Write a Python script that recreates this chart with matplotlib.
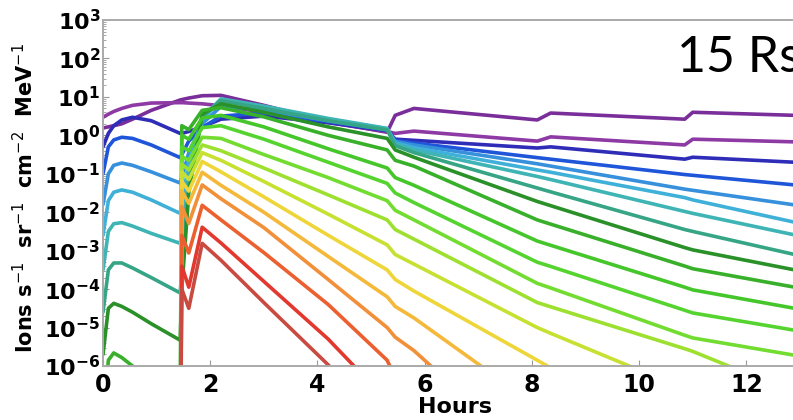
import numpy as np
import matplotlib.pyplot as plt
from matplotlib.ticker import LogLocator, FuncFormatter, NullFormatter

NA = np.nan

# knot times (hours) shared by every channel
hours = [0.0, 0.1, 0.2, 0.35, 0.55, 0.9, 1.44, 1.47, 1.6, 1.85, 2.2,
         3.0, 4.2, 5.3, 5.45, 5.8, 8.1, 8.35, 10.85, 11.0, 12.9]

# log10 of the intensity at each knot, one list per channel (purple -> red)
ch_purple = [0.19, 0.22, 0.25, 0.3, 0.42, 0.65, 0.92, 0.93, 0.97, 1.03, 1.04,
             0.78, 0.35, 0.08, 0.52, 0.7, 0.40, 0.58, 0.42, 0.6, 0.52]
ch_magenta = [0.47, 0.55, 0.62, 0.7, 0.78, 0.84, 0.85, 0.85, 0.84, 0.82, 0.77,
              0.6, 0.33, 0.1, 0.05, 0.11, -0.15, -0.04, -0.25, -0.1, -0.17]
ch_indigo = [-0.3, 0.05, 0.25, 0.4, 0.47, 0.38, 0.05, 0.05, 0.1, 0.22, 0.42,
             0.5, 0.33, 0.12, -0.1, -0.13, -0.33, -0.3, -0.62, -0.57, -0.70]
ch_blue = [-1.0, -0.3, -0.12, -0.05, -0.08, -0.25, -0.58, -0.5, -0.15, 0.2, 0.5,
           0.58, 0.36, 0.14, -0.13, -0.2, -0.58, -0.62, -1.02, -1.04, -1.29]
ch_sky = [-1.8, -1.0, -0.78, -0.72, -0.78, -0.95, -1.24, -1.1, -0.45, 0.3, 0.75,
          0.66, 0.38, 0.15, -0.16, -0.25, -0.74, -0.8, -1.4, -1.43, -1.81]
ch_cyan = [-2.6, -1.7, -1.48, -1.42, -1.48, -1.68, -2.03, -1.8, -0.7, 0.4, 0.92,
           0.74, 0.42, 0.17, -0.2, -0.32, -0.9, -0.96, -1.62, -1.68, -2.26]
ch_teal = [-3.5, -2.5, -2.3, -2.27, -2.36, -2.55, -2.81, -2.5, -1.0, 0.45, 0.95,
           0.76, 0.44, 0.18, -0.22, -0.38, -1.07, -1.15, -1.98, -2.03, -2.59]
ch_seagreen = [-4.6, -3.5, -3.32, -3.32, -3.45, -3.7, -4.1, -3.5, -1.3, 0.5, 0.9,
               0.7, 0.38, 0.14, -0.27, -0.45, -1.37, -1.47, -2.45, -2.5, -3.1]
ch_darkgreen = [-5.7, -4.5, -4.37, -4.45, -4.6, -4.9, -5.33, -4.0, -1.5, 0.55, 0.82,
                0.6, 0.22, -0.08, -0.38, -0.57, -1.72, -1.83, -2.92, -2.98, -3.5]
ch_green = [-7.5, -5.85, -5.66, -5.78, -6.0, -6.4, -7.0, 0.25, 0.15, 0.65, 0.72,
            0.48, 0.0, -0.38, -0.65, -0.8, -2.2, -2.31, -3.4, -3.47, -3.95]
ch_green2 = [NA, NA, NA, NA, NA, NA, -9, 0.0, -0.1, 0.45, 0.52,
             0.22, -0.35, -0.85, -1.1, -1.3, -2.75, -2.86, -3.95, -4.02, -4.5]
ch_green3 = [NA, NA, NA, NA, NA, NA, -9, -0.3, -0.4, 0.2, 0.25,
             -0.1, -0.7, -1.25, -1.5, -1.75, -3.3, -3.41, -4.55, -4.62, -5.07]
ch_lime = [NA, NA, NA, NA, NA, NA, -9, -0.55, -0.65, -0.05, -0.08,
           -0.5, -1.1, -1.7, -1.95, -2.2, -3.85, -3.97, -5.2, -5.27, -5.72]
ch_yellowgreen = [NA, NA, NA, NA, NA, NA, -9, -0.75, -0.9, -0.25, -0.4,
                  -0.85, -1.55, -2.2, -2.45, -2.7, -4.35, -4.46, -5.55, -5.62, -6.7]
ch_chartreuse = [NA, NA, NA, NA, NA, NA, -9, -0.95, -1.15, -0.45, -0.65,
                 -1.2, -2.05, -2.85, -3.1, -3.35, -5.0, -5.15, -6.6, -6.7, -7.8]
ch_yellow = [NA, NA, NA, NA, NA, NA, -9, -1.2, -1.45, -0.68, -0.95,
             -1.6, -2.6, -3.5, -3.75, -4.05, -5.85, -6.05, -8.0, NA, NA]
ch_amber = [NA, NA, NA, NA, NA, NA, -9, -1.45, -1.77, -0.96, -1.3,
            -2.0, -3.15, -4.2, -4.45, -4.75, -7.05, NA, NA, NA, NA]
ch_orange = [NA, NA, NA, NA, NA, NA, -9, -1.85, -2.29, -1.29, -1.65,
             -2.4, -3.75, -5.0, -5.25, -5.6, -8.5, NA, NA, NA, NA]
ch_redorange = [NA, NA, NA, NA, NA, NA, -9, -2.6, -3.06, -1.82, -2.2,
                -3.05, -4.4, -5.85, -6.3, NA, NA, NA, NA, NA, NA]
ch_red = [NA, NA, NA, NA, NA, NA, -9, -3.4, -3.95, -2.39, -2.8,
          -3.8, -5.3, -6.9, NA, NA, NA, NA, NA, NA, NA]
ch_darkred = [NA, NA, NA, NA, NA, NA, -9, -4.0, -4.5, -2.81, -3.25,
              -4.35, -5.97, -7.5, NA, NA, NA, NA, NA, NA, NA]

channels = [ch_purple, ch_magenta, ch_indigo, ch_blue, ch_sky, ch_cyan, ch_teal,
            ch_seagreen, ch_darkgreen, ch_green, ch_green2, ch_green3, ch_lime,
            ch_yellowgreen, ch_chartreuse, ch_yellow, ch_amber, ch_orange,
            ch_redorange, ch_red, ch_darkred]
colors = ["#7a2e9a", "#8e3aa5", "#2f2db8", "#1f55d8", "#3690dc", "#3fb0d8",
          "#3fb4b4", "#35a585", "#2a9028", "#38b02a", "#45c62a", "#55d430",
          "#72dc30", "#9ee030", "#c8e032", "#eed63a", "#f4b83a", "#f2903a",
          "#ec6030", "#e2382e", "#c94a40"]

fig = plt.figure(figsize=(7.93, 4.20), dpi=100)
ax = fig.add_axes([103 / 793, 54 / 420, 690 / 793, 346 / 420])

for vals, col in zip(channels, colors):
    ax.plot(hours, np.power(10.0, vals), color=col, lw=2.6,
            solid_joinstyle="round", solid_capstyle="round")

ax.set_yscale("log")
ax.set_ylim(1e-6, 1e3)
ax.set_xlim(0, 12.87)

ax.yaxis.set_major_locator(LogLocator(base=10, numticks=20))
ax.yaxis.set_minor_locator(LogLocator(base=10, subs=np.arange(2, 10), numticks=20))
ax.yaxis.set_minor_formatter(NullFormatter())
ax.yaxis.set_major_formatter(FuncFormatter(
    lambda v, p: r"$\mathbf{10^{%d}}$" % round(np.log10(v))))
ax.set_xticks([0, 2, 4, 6, 8, 10, 12])
ax.set_xticklabels(["0", "2", "4", "6", "8", "10", "12"],
                   fontsize=17, fontweight="bold")

ax.tick_params(axis="y", which="major", direction="in", length=4,
               color="#999999", labelsize=16, pad=2)
ax.tick_params(axis="y", which="minor", direction="in", length=2, color="#999999")
ax.tick_params(axis="x", direction="in", length=4, color="#999999", pad=5)

for side in ["left", "bottom", "top"]:
    ax.spines[side].set_color("#aaaaaa")
    ax.spines[side].set_linewidth(1.4)
ax.spines["right"].set_visible(False)

ax.set_ylabel(r"Ions s$^{-1}$  sr$^{-1}$  cm$^{-2}$  MeV$^{-1}$",
              fontsize=15, fontweight="bold")
ax.yaxis.set_label_coords(-0.096, 0.485)
ax.set_xlabel("Hours", fontsize=16, fontweight="bold")
ax.xaxis.set_label_coords(0.51, -0.09)

fig.text(677 / 793, 1 - 72 / 420, "15 Rs", fontsize=36, family="Lato",
         ha="left", va="baseline")

fig.savefig("out.png", dpi=100)
